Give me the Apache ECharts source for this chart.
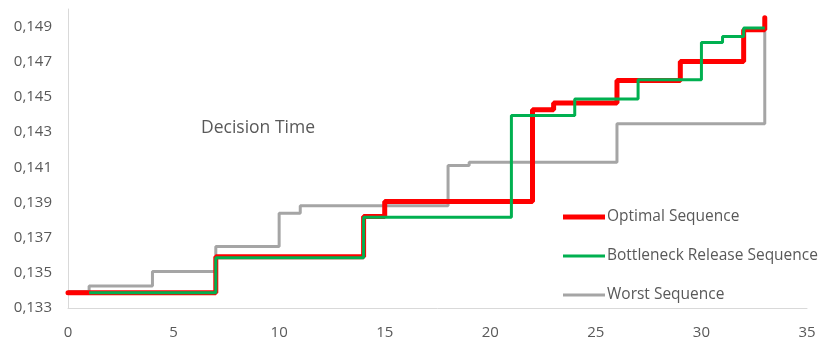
<!DOCTYPE html>
<html>
<head>
<meta charset="utf-8">
<script src="https://cdn.jsdelivr.net/npm/echarts@6/dist/echarts.min.js"></script>
<style>
  html, body { margin: 0; padding: 0; background: #ffffff; }
  #chart { width: 822px; height: 343px; }
</style>
</head>
<body>
<div id="chart"></div>
<script>
// Decision time per sequence position (step values at the positions where they change)
const optimalX = [0, 7, 14, 15, 22, 23, 26, 29, 32, 33];
const optimalY = [0.13386, 0.13592, 0.13820, 0.13905, 0.14427, 0.14465, 0.14594, 0.14702, 0.14882, 0.14950];

const bottleneckX = [1, 7, 14, 21, 24, 27, 30, 31, 32, 33];
const bottleneckY = [0.13386, 0.13586, 0.13816, 0.14395, 0.14488, 0.14598, 0.14810, 0.14844, 0.14892, 0.14892];

const worstX = [0, 1, 4, 7, 10, 11, 18, 19, 26, 33];
const worstY = [0.13394, 0.13425, 0.13507, 0.13649, 0.13839, 0.13882, 0.14110, 0.14129, 0.14347, 0.14950];

const seriesNames = ['Optimal Sequence', 'Bottleneck Release Sequence', 'Worst Sequence'];
const chartTitle = 'Decision Time';

const xTicks = { min: 0, max: 35, interval: 5 };
const yTicks = { min: 0.133, max: 0.150, step: 0.001 };

function pairs(xs, ys) {
  return xs.map((x, i) => [x, ys[i]]);
}

const textColor = '#595959';
const fontFamily = 'Open Sans, Noto Sans, sans-serif';
const colors = { optimal: '#FF0000', bottleneck: '#00B050', worst: '#A5A5A5' };

const chart = echarts.init(document.getElementById('chart'), null, { renderer: 'canvas' });

chart.setOption({
  animation: false,
  backgroundColor: '#ffffff',
  title: {
    text: chartTitle,
    left: 201,
    top: 119,
    padding: 0,
    textStyle: { color: textColor, fontSize: 17.5, fontWeight: 'normal', fontFamily: fontFamily }
  },
  legend: {
    orient: 'vertical',
    left: 563,
    top: 209,
    padding: 0,
    itemWidth: 42,
    itemHeight: 14,
    itemGap: 23,
    data: [
      { name: seriesNames[0], icon: 'path://M0,0h42v5h-42z', itemStyle: { color: colors.optimal } },
      { name: seriesNames[1], icon: 'path://M0,0h42v3h-42z', itemStyle: { color: colors.bottleneck } },
      { name: seriesNames[2], icon: 'path://M0,0h42v3h-42z', itemStyle: { color: colors.worst } }
    ],
    textStyle: { color: textColor, fontSize: 15.5, fontFamily: fontFamily, padding: [0, 0, 0, -3] }
  },
  grid: { left: 68, right: 15, top: 9, bottom: 35, containLabel: false },
  xAxis: {
    type: 'value',
    min: xTicks.min,
    max: xTicks.max,
    interval: xTicks.interval,
    axisLine: { show: true, lineStyle: { color: '#D9D9D9', width: 1 } },
    axisTick: { show: false },
    splitLine: { show: false },
    axisLabel: { color: textColor, fontSize: 15, fontFamily: fontFamily, margin: 17 }
  },
  yAxis: {
    type: 'value',
    min: yTicks.min,
    max: yTicks.max,
    interval: yTicks.step,
    axisLine: { show: true, lineStyle: { color: '#D9D9D9', width: 1 } },
    axisTick: { show: false },
    splitLine: { show: false },
    axisLabel: {
      color: textColor,
      fontSize: 15,
      fontFamily: fontFamily,
      margin: 16,
      padding: [3, 0, 0, 0],
      // labels every 0.002, starting at 0.133
      formatter: function (v) {
        const k = Math.round(v * 1000);
        if (k % 2 !== 1) return '';
        return (k / 1000).toFixed(3).replace('.', ',');
      }
    }
  },
  series: [
    {
      name: seriesNames[2],
      type: 'line',
      step: 'end',
      data: pairs(worstX, worstY),
      showSymbol: false,
      symbol: 'none',
      z: 2,
      lineStyle: { color: colors.worst, width: 3 },
      itemStyle: { color: colors.worst }
    },
    {
      name: seriesNames[0],
      type: 'line',
      step: 'end',
      data: pairs(optimalX, optimalY),
      showSymbol: false,
      symbol: 'none',
      z: 3,
      lineStyle: { color: colors.optimal, width: 5, cap: 'round' },
      itemStyle: { color: colors.optimal }
    },
    {
      name: seriesNames[1],
      type: 'line',
      step: 'end',
      data: pairs(bottleneckX, bottleneckY),
      showSymbol: false,
      symbol: 'none',
      z: 4,
      lineStyle: { color: colors.bottleneck, width: 3 },
      itemStyle: { color: colors.bottleneck }
    }
  ]
});
</script>
</body>
</html>
